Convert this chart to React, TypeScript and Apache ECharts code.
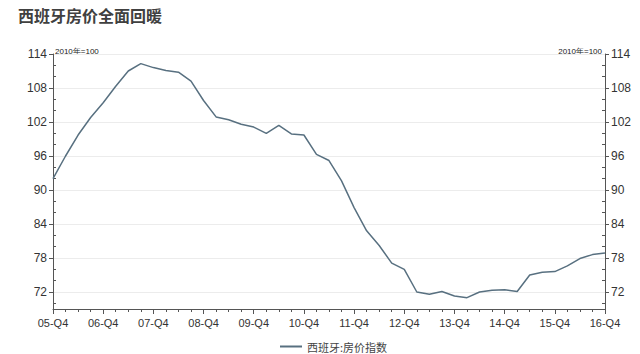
import React, { useEffect, useRef } from "react";
import * as echarts from "echarts";

const quarters = [
  "05-Q4",
  "06-Q1", "06-Q2", "06-Q3", "06-Q4",
  "07-Q1", "07-Q2", "07-Q3", "07-Q4",
  "08-Q1", "08-Q2", "08-Q3", "08-Q4",
  "09-Q1", "09-Q2", "09-Q3", "09-Q4",
  "10-Q1", "10-Q2", "10-Q3", "10-Q4",
  "11-Q1", "11-Q2", "11-Q3", "11-Q4",
  "12-Q1", "12-Q2", "12-Q3", "12-Q4",
  "13-Q1", "13-Q2", "13-Q3", "13-Q4",
  "14-Q1", "14-Q2", "14-Q3", "14-Q4",
  "15-Q1", "15-Q2", "15-Q3", "15-Q4",
  "16-Q1", "16-Q2", "16-Q3", "16-Q4",
];

const priceIndex = [
  92.0,
  96.0, 99.7, 102.8, 105.4,
  108.3, 111.0, 112.3, 111.6,
  111.1, 110.8, 109.2, 105.8,
  102.9, 102.4, 101.6, 101.1,
  100.0, 101.4, 99.9, 99.7,
  96.3, 95.2, 91.6, 86.9,
  82.8, 80.2, 77.1, 76.0,
  72.0, 71.6, 72.1, 71.3,
  71.0, 72.0, 72.3, 72.4,
  72.1, 75.0, 75.5, 75.6,
  76.6, 77.9, 78.6, 78.9,
];

const majorTicks = [72, 78, 84, 90, 96, 102, 108, 114];
const minorTicks = [70, 74, 76, 80, 82, 86, 88, 92, 94, 98, 100, 104, 106, 110, 112];

const seriesName = "西班牙:房价指数";
const titleText = "西班牙房价全面回暖";
const baseNote = "2010年=100";

const Y_MIN = 69;
const Y_MAX = 114;

export default function App() {
  const ref = useRef<HTMLDivElement>(null);

  useEffect(() => {
    if (!ref.current) return;
    const chart = echarts.init(ref.current, null, { renderer: "svg" });
    const axisColor = "#555";
    const labelStyle = {
      color: "#333",
      fontFamily: "Liberation Sans",
      fontSize: 12,
    };
    const majorY = (pos: "left" | "right", split: boolean) => ({
      type: "value",
      position: pos,
      min: Y_MIN,
      max: Y_MAX,
      axisLine: { show: true, lineStyle: { color: axisColor, width: 1 } },
      axisTick: {
        show: true,
        customValues: majorTicks,
        length: 4,
        lineStyle: { color: axisColor },
      },
      axisLabel: { ...labelStyle, customValues: majorTicks, margin: 6 },
      splitLine: { show: split, lineStyle: { color: "#ececec", width: 1 } },
    });
    const minorY = (pos: "left" | "right") => ({
      type: "value",
      position: pos,
      min: Y_MIN,
      max: Y_MAX,
      axisLine: { show: false },
      axisTick: {
        show: true,
        inside: true,
        customValues: minorTicks,
        length: 3,
        lineStyle: { color: axisColor },
      },
      axisLabel: { show: false },
      splitLine: { show: false },
    });

    chart.setOption({
      animation: false,
      backgroundColor: "#ffffff",
      title: {
        text: titleText,
        left: 13,
        top: 2,
        textStyle: {
          fontFamily: "Noto Sans CJK SC",
          fontSize: 16,
          fontWeight: "bold",
          color: "#404040",
        },
      },
      grid: { left: 53, right: 35, top: 54, bottom: 45 },
      legend: {
        data: [seriesName],
        left: 275,
        top: 336,
        icon: "rect",
        itemWidth: 22,
        itemHeight: 2,
        itemGap: 4,
        textStyle: {
          fontFamily: "Noto Sans CJK SC",
          fontSize: 11,
          color: "#444",
        },
      },
      xAxis: [
        {
          type: "category",
          data: quarters,
          boundaryGap: false,
          axisLine: { show: true, lineStyle: { color: axisColor, width: 1 } },
          axisTick: {
            show: true,
            interval: 3,
            length: 5,
            lineStyle: { color: axisColor },
          },
          axisLabel: {
            ...labelStyle,
            fontSize: 11,
            interval: 3,
            margin: 8,
          },
          splitLine: { show: false },
        },
        {
          type: "category",
          data: quarters,
          boundaryGap: false,
          position: "bottom",
          axisLine: { show: false },
          axisTick: {
            show: true,
            interval: 0,
            length: 3,
            lineStyle: { color: axisColor },
          },
          axisLabel: { show: false },
          splitLine: { show: false },
        },
      ],
      yAxis: [
        majorY("left", true),
        majorY("right", false),
        minorY("left"),
        minorY("right"),
      ],
      graphic: [
        {
          type: "text",
          left: 55,
          top: 47,
          style: {
            text: baseNote,
            fontSize: 8,
            fontFamily: "Liberation Sans",
            fill: "#222",
          },
        },
        {
          type: "text",
          right: 38,
          top: 47,
          style: {
            text: baseNote,
            fontSize: 8,
            fontFamily: "Liberation Sans",
            fill: "#222",
          },
        },
      ],
      series: [
        {
          name: seriesName,
          type: "line",
          data: priceIndex,
          xAxisIndex: 0,
          yAxisIndex: 0,
          showSymbol: false,
          symbol: "none",
          lineStyle: { color: "#587080", width: 1.5 },
          itemStyle: { color: "#587080" },
        },
      ],
    });
    return () => chart.dispose();
  }, []);

  return (
    <div
      ref={ref}
      style={{ position: "fixed", left: 0, top: 0, width: 640, height: 354 }}
    />
  );
}
